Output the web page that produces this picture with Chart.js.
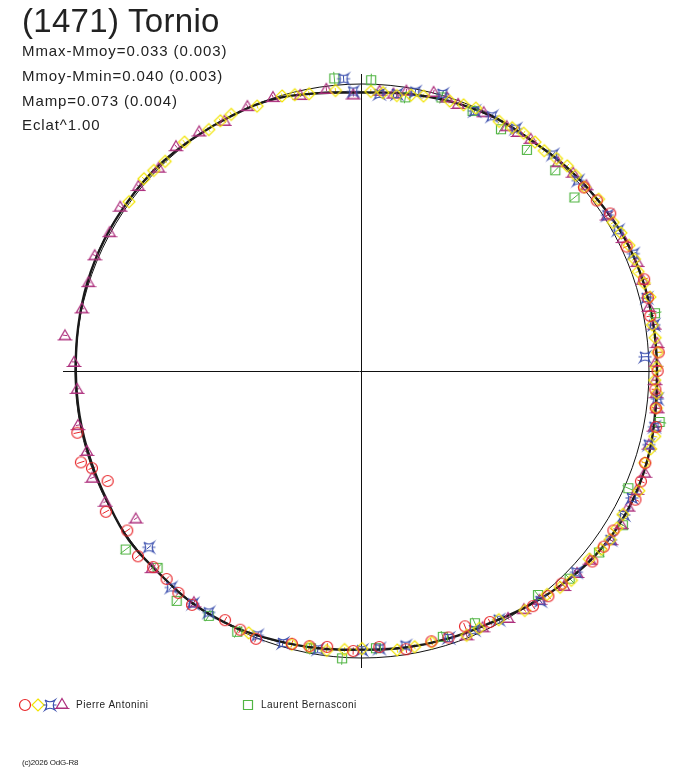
<!DOCTYPE html>
<html>
<head>
<meta charset="utf-8">
<script src="https://cdn.jsdelivr.net/npm/chart.js@4.4.1/dist/chart.umd.min.js"></script>
<style>
body{margin:0;background:#fff;font-family:"Liberation Sans",Arial,sans-serif;color:#222}
#wrap{position:relative;width:688px;height:768px;overflow:hidden}
#polar{position:absolute;left:0;top:0}
.t{position:absolute;white-space:nowrap;line-height:1}
.s{font-size:15px;letter-spacing:0.9px;left:22px}
</style>
</head>
<body>
<div id="wrap">
<canvas id="polar" width="688" height="768"></canvas>
<div class="t" style="left:22px;top:4px;font-size:33px;letter-spacing:0.3px">(1471) Tornio</div>
<div class="t s" style="top:43px">Mmax-Mmoy=0.033 (0.003)</div>
<div class="t s" style="top:68px">Mmoy-Mmin=0.040 (0.003)</div>
<div class="t s" style="top:93px">Mamp=0.073 (0.004)</div>
<div class="t s" style="top:117px">Eclat^1.00</div>
<div class="t" style="left:76px;top:700px;font-size:10px;letter-spacing:0.5px">Pierre Antonini</div>
<div class="t" style="left:261px;top:700px;font-size:10px;letter-spacing:0.5px">Laurent Bernasconi</div>
<div class="t" style="left:22px;top:759px;font-size:8px;letter-spacing:-0.2px">(c)2026 OdG-R8</div>
</div>
<script>
// phase (0..1, clockwise from top) and magnitude relative to the mean
var curvePhase = [0,0.025,0.05,0.075,0.1,0.125,0.15,0.175,0.2,0.225,0.25,0.275,0.3,0.325,0.35,0.375,0.4,0.425,0.45,0.475,
    0.5,0.525,0.55,0.575,0.6,0.625,0.65,0.675,0.7,0.725,0.75,0.775,0.8,0.825,0.85,0.875,0.9,0.925,0.95,0.975,1]
var curveMag = [0.032,0.024,0.013,0.004,0.004,-0.007,-0.016,-0.027,-0.030,-0.030,-0.030,-0.035,-0.045,-0.048,-0.042,-0.025,-0.004,0.016,0.022,0.027,
    0.032,0.024,0.015,0.003,-0.002,0.002,-0.004,0.004,0.005,0.004,0.003,-0.001,-0.006,-0.008,-0.008,-0.008,-0.002,0.002,0.004,0.022,0.032]
var curveMag2 = [0.030,0.022,0.012,0.006,0.002,-0.009,-0.018,-0.025,-0.031,-0.029,-0.032,-0.037,-0.043,-0.049,-0.040,-0.023,-0.006,0.014,0.023,0.026,
    0.030,0.026,0.013,0.005,-0.004,0.000,-0.002,0.002,0.007,0.002,0.005,0.001,-0.004,-0.010,-0.006,-0.010,0.000,0.000,0.006,0.020,0.030]

// Pierre Antonini, 4 nights
var redPhase = [0.14,0.15,0.16,0.18,0.20,0.21,0.22,0.24,0.25,0.26,0.27,0.28,0.30,0.31,0.32,0.34,0.35,0.36,0.38,0.39,0.40,0.425,0.439,0.45,
    0.46,0.475,0.49,0.505,0.52,0.53,0.54,0.56,0.57,0.58,0.60,0.61,0.62,0.63,0.64,0.655,0.67,0.685,0.695,0.70,0.716]
var redMag = [-0.004,-0.012,-0.026,-0.020,-0.036,-0.030,-0.024,-0.038,-0.032,-0.026,-0.034,-0.046,-0.040,-0.048,-0.056,-0.040,-0.044,-0.044,-0.018,-0.020,-0.014,0.020,0.045,0.026,
    0.030,0.020,0.040,0.026,0.034,0.026,0.020,-0.004,0.004,0.010,-0.008,-0.004,0.006,0.002,-0.014,0.012,-0.020,0.038,0.000,-0.032,-0.016]
var yellowPhase = [0.005,0.012,0.02,0.028,0.035,0.05,0.058,0.065,0.08,0.088,0.095,0.103,0.11,0.118,0.125,0.132,0.14,0.15,0.165,0.172,0.18,0.188,0.195,0.202,
    0.21,0.225,0.232,0.24,0.248,0.255,0.262,0.27,0.285,0.292,0.30,0.315,0.33,0.338,0.345,0.352,0.36,0.375,0.382,0.39,0.405,0.42,0.432,0.44,
    0.46,0.47,0.48,0.50,0.51,0.52,0.53,0.54,0.565,0.85,0.865,0.872,0.88,0.895,0.91,0.918,0.925,0.94,0.955,0.962,0.97,0.985]
var yellowMag = [0.028,0.030,0.036,0.026,0.020,0.012,0.008,0.002,0.008,0.004,-0.002,0.000,0.004,-0.004,-0.012,-0.010,-0.006,-0.020,-0.018,-0.024,-0.030,-0.028,-0.024,-0.032,
    -0.038,-0.026,-0.030,-0.034,-0.028,-0.022,-0.032,-0.036,-0.048,-0.044,-0.038,-0.054,-0.040,-0.046,-0.048,-0.042,-0.030,-0.034,-0.024,-0.012,-0.010,0.012,0.016,0.010,
    0.026,0.024,0.022,0.036,0.030,0.020,0.024,0.018,0.006,-0.004,-0.014,-0.008,-0.002,-0.010,0.004,-0.002,-0.004,0.008,0.002,0.010,0.018,0.020]
var bluePhase = [0.01,0.02,0.03,0.045,0.065,0.075,0.09,0.115,0.135,0.16,0.17,0.185,0.21,0.225,0.242,0.265,0.28,0.29,0.32,0.33,0.345,0.37,0.395,
    0.42,0.435,0.45,0.475,0.49,0.50,0.525,0.545,0.56,0.59,0.60,0.615,0.64,0.99,0.995]
var blueMag = [0.036,0.030,0.010,-0.006,0.014,0.004,0.000,-0.006,-0.004,-0.014,-0.020,-0.032,-0.026,-0.032,0.014,-0.036,-0.040,-0.034,-0.042,-0.044,-0.050,-0.026,-0.016,
    0.012,0.018,0.024,0.034,0.034,0.030,0.020,0.014,0.010,0.004,-0.002,-0.006,0.040,-0.022,0.028]
var magentaPhase = [0.01,0.018,0.025,0.04,0.048,0.055,0.07,0.085,0.092,0.10,0.12,0.13,0.14,0.16,0.175,0.19,0.20,0.215,0.225,0.235,0.245,0.255,0.262,0.27,0.28,
    0.29,0.305,0.315,0.325,0.335,0.345,0.36,0.37,0.38,0.395,0.405,0.415,0.43,0.44,
    0.60,0.63,0.658,0.675,0.69,0.705,0.72,0.74,0.755,0.769,0.785,0.80,0.815,0.83,0.845,0.86,0.875,0.89,0.905,0.92,0.935,0.95,0.965,0.98,0.995]
var magentaMag = [0.024,0.030,0.012,-0.004,0.002,0.012,0.004,0.010,0.006,0.000,0.002,-0.010,-0.016,-0.012,-0.022,-0.034,-0.030,-0.026,-0.034,-0.036,-0.026,-0.024,-0.030,-0.040,-0.038,
    -0.034,-0.050,-0.046,-0.044,-0.052,-0.052,-0.034,-0.030,-0.030,-0.010,-0.004,0.000,0.014,0.010,
    0.004,-0.004,0.066,-0.004,-0.012,0.002,-0.008,0.006,-0.004,-0.045,0.000,-0.002,-0.016,-0.004,-0.020,-0.012,-0.002,-0.018,-0.010,0.006,-0.006,-0.004,0.016,0.010,0.040]
// Laurent Bernasconi
var greenPhase = [0.005,0.025,0.045,0.064,0.083,0.102,0.122,0.141,0.219,0.277,0.316,0.335,0.354,0.375,0.394,0.433,0.453,0.492,0.511,0.529,0.571,0.589,0.608,0.628,0.647,0.985]
var greenMag = [-0.015,0.038,0.008,0.017,0.031,0.043,0.032,0.049,-0.043,-0.055,-0.015,-0.059,-0.043,-0.025,0.008,0.041,0.035,0.036,-0.004,0.019,-0.008,-0.007,-0.031,0.012,-0.034,-0.026]
// typical error of each night (mag)
var redErr = 0.014, yellowErr = 0.010, blueErr = 0.012, magentaErr = 0.008, greenErr = 0.024

function toXY(phase, mag){
    var r = Math.pow(10, -0.4 * mag)
    var a = Math.PI / 2 - 2 * Math.PI * phase
    return {x: r * Math.cos(a), y: r * Math.sin(a), phase: phase, mag: mag}
}
function points(ph, mg){
    return ph.map(function(p, i){ return toXY(p, mg[i]) })
}

function marker(kind, color){
    var c = document.createElement('canvas')
    c.width = 16; c.height = 16
    var g = c.getContext('2d')
    g.strokeStyle = color
    g.lineWidth = 1.2
    g.beginPath()
    if(kind == 'circle'){
        g.arc(8, 8, 5.5, 0, 2 * Math.PI)
    } else if(kind == 'diamond'){
        g.moveTo(8, 2); g.lineTo(14, 8); g.lineTo(8, 14); g.lineTo(2, 8); g.closePath()
    } else if(kind == 'star'){
        g.moveTo(3, 3)
        g.quadraticCurveTo(8, 6.5, 13, 3)
        g.quadraticCurveTo(9.5, 8, 13, 13)
        g.quadraticCurveTo(8, 9.5, 3, 13)
        g.quadraticCurveTo(6.5, 8, 3, 3)
        g.moveTo(1.5, 8); g.lineTo(4.5, 8)
        g.moveTo(11.5, 8); g.lineTo(14.5, 8)
    } else if(kind == 'triangle'){
        g.moveTo(8, 2.5); g.lineTo(13.5, 12); g.lineTo(2.5, 12); g.closePath()
        g.moveTo(0.5, 12.5); g.lineTo(15.5, 12.5)
    } else {
        g.rect(3.5, 3.5, 9, 9)
    }
    g.stroke()
    return c
}

var colRed = '#e8262a', colYellow = '#f2e400', colBlue = '#3b4fae', colMagenta = '#ad2f7d', colGreen = '#52b544'
var mk = {
    red: marker('circle', colRed),
    yellow: marker('diamond', colYellow),
    blue: marker('star', colBlue),
    magenta: marker('triangle', colMagenta),
    green: marker('rect', colGreen)
}

var polarExtras = {
    id: 'polarExtras',
    beforeDatasetsDraw: function(chart){
        var ctx = chart.ctx, sx = chart.scales.x, sy = chart.scales.y
        var cx = sx.getPixelForValue(0), cy = sy.getPixelForValue(0)
        ctx.save()
        // reference circle (mean brightness)
        ctx.strokeStyle = '#111'
        ctx.lineWidth = 1
        ctx.beginPath()
        ctx.arc(cx, cy, sx.getPixelForValue(1) - cx, 0, 2 * Math.PI)
        ctx.stroke()
        // radial error bars
        chart.data.datasets.forEach(function(ds){
            if(!ds.err) return
            ctx.strokeStyle = ds.barColor
            ctx.beginPath()
            ds.data.forEach(function(p){
                var a = toXY(p.phase, p.mag - ds.err), b = toXY(p.phase, p.mag + ds.err)
                ctx.moveTo(sx.getPixelForValue(a.x), sy.getPixelForValue(a.y))
                ctx.lineTo(sx.getPixelForValue(b.x), sy.getPixelForValue(b.y))
            })
            ctx.stroke()
        })
        ctx.restore()
    },
    afterDraw: function(chart){
        var ctx = chart.ctx
        ctx.drawImage(mk.red, 25 - 8, 705 - 8)
        ctx.drawImage(mk.yellow, 38 - 8, 705 - 8)
        ctx.drawImage(mk.blue, 50 - 8, 705 - 8)
        ctx.drawImage(mk.magenta, 62 - 8, 704 - 8)
        ctx.drawImage(mk.green, 248 - 8, 705 - 8)
    }
}

function crearGrafico(){
    var g = document.getElementById('polar').getContext('2d')
    function serie(label, ph, mg, style, color, err){
        return {
            label: label, data: points(ph, mg), pointStyle: style,
            borderColor: color, backgroundColor: color, pointRadius: 6, pointHoverRadius: 6,
            err: err, barColor: color, clip: false, order: 1
        }
    }
    new Chart(g, {
        type: 'scatter',
        data: {
            datasets: [
                serie('Pierre Antonini 1', redPhase, redMag, mk.red, colRed, redErr),
                serie('Pierre Antonini 2', yellowPhase, yellowMag, mk.yellow, colYellow, yellowErr),
                serie('Pierre Antonini 3', bluePhase, blueMag, mk.blue, colBlue, blueErr),
                serie('Pierre Antonini 4', magentaPhase, magentaMag, mk.magenta, colMagenta, magentaErr),
                serie('Laurent Bernasconi', greenPhase, greenMag, mk.green, colGreen, greenErr),
                {
                    label: 'fit', data: points(curvePhase, curveMag), showLine: true,
                    borderColor: '#1a1a1a', borderWidth: 2.4, pointRadius: 0, tension: 0.4,
                    clip: false, order: 5
                },
                {
                    label: 'fit 2', data: points(curvePhase, curveMag2), showLine: true,
                    borderColor: '#333', borderWidth: 1, pointRadius: 0, tension: 0.4,
                    clip: false, order: 6
                }
            ]
        },
        options: {
            responsive: false,
            maintainAspectRatio: false,
            animation: false,
            devicePixelRatio: 1,
            layout: {padding: {left: 63, right: 32, top: 74, bottom: 100}},
            plugins: {legend: {display: false}, tooltip: {enabled: false}},
            scales: {
                x: {
                    type: 'linear', min: -1.0418, max: 1.0244,
                    afterBuildTicks: function(axis){ axis.ticks = [{value: 0}] },
                    ticks: {display: false},
                    grid: {color: '#111', lineWidth: 1, drawTicks: false},
                    border: {display: false}
                },
                y: {
                    type: 'linear', min: -1.035, max: 1.035,
                    afterBuildTicks: function(axis){ axis.ticks = [{value: 0}] },
                    ticks: {display: false},
                    grid: {color: '#111', lineWidth: 1, drawTicks: false},
                    border: {display: false}
                }
            }
        },
        plugins: [polarExtras]
    })
}
document.addEventListener('DOMContentLoaded', crearGrafico)
</script>
</body>
</html>
